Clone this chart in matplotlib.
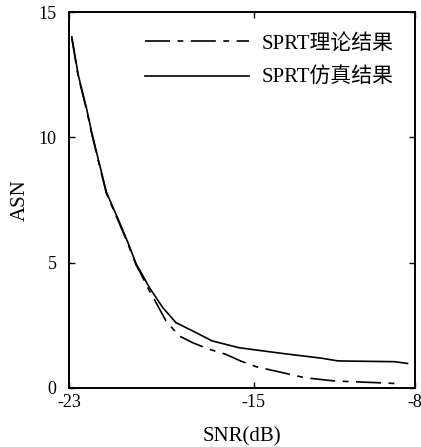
import numpy as np
import matplotlib.pyplot as plt

plt.rcParams['font.family'] = ['Liberation Serif', 'Noto Sans CJK SC']

# SPRT 仿真结果 (solid)
snr_sim = [-22.88, -22.6, -22.24, -22.02, -21.74, -21.38, -20.88, -20.45, -20.09,
           -19.88, -19.52, -18.94, -18.37, -17.65, -16.8, -15.65, -14.35, -13.5,
           -12.06, -11.34, -8.9, -8.33]
asn_sim = [14.01, 12.48, 11.15, 10.21, 9.15, 7.81, 6.75, 5.81, 4.95,
           4.61, 4.01, 3.21, 2.61, 2.28, 1.88, 1.61, 1.45, 1.35,
           1.19, 1.08, 1.05, 0.98]

# SPRT 理论结果 (dashed)
snr_th = [-22.88, -22.6, -22.24, -22.02, -21.74, -21.38, -20.88, -20.45, -20.09,
          -19.88, -19.52, -19.23, -18.8, -18.23, -17.65, -16.94, -16.22, -15.57,
          -14.86, -14.07, -12.78, -11.49, -9.6, -8.62]
asn_th = [13.95, 12.42, 11.1, 10.16, 9.1, 7.76, 6.7, 5.76, 4.9,
          4.55, 3.88, 3.41, 2.68, 2.08, 1.81, 1.55, 1.35, 1.08,
          0.84, 0.68, 0.41, 0.28, 0.21, 0.17]

fig = plt.figure(figsize=(4.21, 4.47), dpi=100)
ax = fig.add_axes([0.164, 0.132, 0.822, 0.841])

ax.plot(snr_th, asn_th, color='black', lw=1.2, dashes=(15, 4.5, 3.5, 4.5),
        label='SPRT理论结果')
ax.plot(snr_sim, asn_sim, color='black', lw=1.2, label='SPRT仿真结果')

ax.set_xlim(-23, -8)
ax.set_ylim(0, 15)
ax.set_xticks([-23, -15, -8])
ax.set_xticklabels(['-23', '-15', '-8'])
ax.set_yticks([0, 5, 10, 15])
ax.tick_params(direction='in', length=4, width=1, labelsize=13,
               top=True, right=True)
ax.tick_params(axis='x', pad=4)
ax.tick_params(axis='y', pad=9)
for s in ax.spines.values():
    s.set_linewidth(1.4)

ax.set_xlabel('SNR(dB)', fontsize=15, labelpad=12)
ax.set_ylabel('ASN', fontsize=15, labelpad=6)

ax.legend(loc='upper right', frameon=False, fontsize=15,
          handlelength=5.0, handletextpad=0.6, labelspacing=0.7,
          bbox_to_anchor=(0.975, 0.975), borderaxespad=0.2)

fig.savefig('out.png', dpi=100)
